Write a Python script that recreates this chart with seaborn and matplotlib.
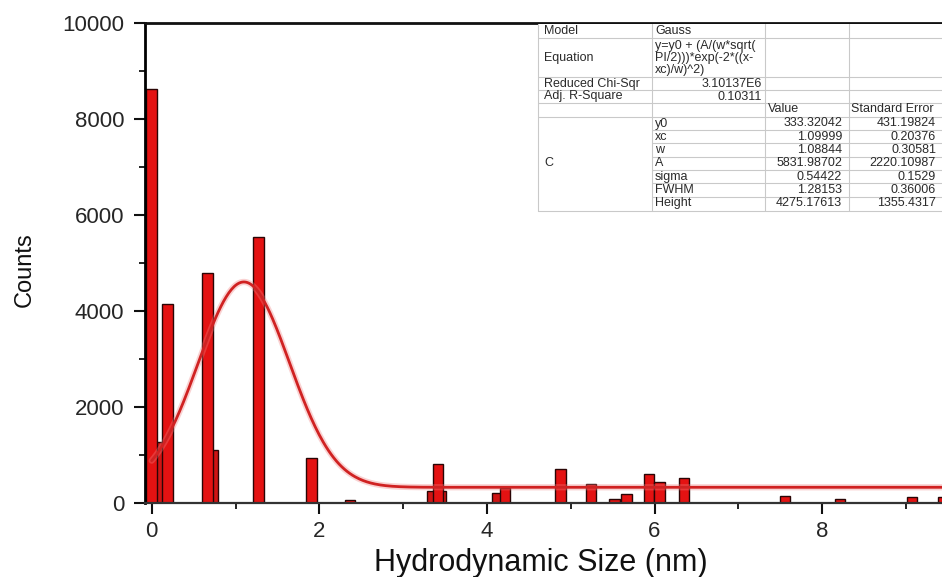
import numpy as np
import pandas as pd
import matplotlib
matplotlib.use("Agg")
import matplotlib.pyplot as plt
from matplotlib.ticker import MultipleLocator
import seaborn as sns

# ---------------- data ----------------
size_front = [0.0, 0.186, 0.663, 1.272, 1.909, 2.363, 3.417, 4.218, 4.876, 5.24,
              5.525, 5.668, 5.934, 6.06, 6.352, 7.554, 8.211, 9.07, 9.445]
counts_front = [8620, 4142, 4800, 5550, 950, 70, 818, 312, 708, 396,
                83, 187, 610, 450, 527, 158, 96, 137, 137]
size_back = [0.113, 0.731, 3.351, 3.446, 4.12]
counts_back = [1280, 1110, 250, 250, 208]

fit_y0 = 333.32042
fit_xc = 1.09999
fit_w = 1.08844
fit_A = 5831.98702

x_ticks = [0, 2, 4, 6, 8]
y_ticks = [0, 2000, 4000, 6000, 8000, 10000]

stat_labels = ["Model", "Equation", "Reduced Chi-Sqr", "Adj. R-Square"]
stat_values = ["Gauss", "y=y0 + (A/(w*sqrt(\nPI/2)))*exp(-2*((x-\nxc)/w)^2)",
               "3.10137E6", "0.10311"]
param_group = "C"
param_names = ["y0", "xc", "w", "A", "sigma", "FWHM", "Height"]
param_values = ["333.32042", "1.09999", "1.08844", "5831.98702", "0.54422",
                "1.28153", "4275.17613"]
param_errors = ["431.19824", "0.20376", "0.30581", "2220.10987", "0.1529",
                "0.36006", "1355.4317"]
col_headers = ["Value", "Standard Error"]

# ---------------- style ----------------
sns.set_style("ticks")
plt.rcParams["font.family"] = ["Liberation Sans", "DejaVu Sans"]

BAR_W = 0.125
BAR_COLOR = "#e41212"
BACK_COLOR = "#cf1414"
EDGE = "#2a0505"

fig = plt.figure(figsize=(9.42, 5.77), dpi=100)
W, H = 942, 577
ax = fig.add_axes([145 / W, 1 - 503.3 / H, (W - 145) / W, (503.3 - 23) / H])

df_back = pd.DataFrame({"size": size_back, "counts": counts_back})
df_front = pd.DataFrame({"size": size_front, "counts": counts_front})

w_back = BAR_W / np.min(np.diff(np.sort(df_back["size"].values)))
w_front = BAR_W / np.min(np.diff(np.sort(df_front["size"].values)))

sns.barplot(data=df_back, x="size", y="counts", native_scale=True, orient="x",
            width=w_back, color=BACK_COLOR, saturation=1, edgecolor=EDGE,
            linewidth=1.0, errorbar=None, ax=ax)
sns.barplot(data=df_front, x="size", y="counts", native_scale=True, orient="x",
            width=w_front, color=BAR_COLOR, saturation=1, edgecolor=EDGE,
            linewidth=1.0, errorbar=None, ax=ax)

# Gauss fit curve from the fitted parameters shown in the table
x_fit = np.linspace(0, 9.5, 600)
y_fit = fit_y0 + fit_A / (fit_w * np.sqrt(np.pi / 2)) * np.exp(-2 * ((x_fit - fit_xc) / fit_w) ** 2)
sns.lineplot(x=x_fit, y=y_fit, color="#f08080", lw=4.5, alpha=0.35, ax=ax, zorder=4)
sns.lineplot(x=x_fit, y=y_fit, color="#d02222", lw=2.0, ax=ax, zorder=5)

ax.set_xlim(-0.08, 9.43)
ax.set_ylim(0, 10000)
ax.set_xticks(x_ticks)
ax.set_xticklabels([str(t) for t in x_ticks])
ax.set_yticks(y_ticks)
ax.set_yticklabels([str(t) for t in y_ticks])
ax.xaxis.set_minor_locator(MultipleLocator(1))
ax.yaxis.set_minor_locator(MultipleLocator(1000))
ax.set_xlabel("")
ax.set_ylabel("")

ax.tick_params(axis="both", which="major", direction="out", length=8, width=1.5,
               labelsize=16, color="#111111")
ax.tick_params(axis="y", which="major", pad=7)
ax.tick_params(axis="x", which="major", pad=5)
ax.tick_params(axis="both", which="minor", direction="out", length=4.5, width=1.3,
               color="#111111")

ax.spines["right"].set_visible(False)
ax.spines["left"].set_linewidth(2.0)
ax.spines["left"].set_color("#000000")
ax.spines["top"].set_visible(True)
ax.spines["top"].set_linewidth(2.0)
ax.spines["top"].set_color("#111111")
ax.spines["bottom"].set_linewidth(1.6)
ax.spines["bottom"].set_color("#333333")

fig.text(541 / W, 1 - 563 / H, "Hydrodynamic Size (nm)", ha="center", va="center",
         fontsize=22, color="#111111")
fig.text(25 / W, 1 - 270 / H, "Counts", ha="center", va="center", rotation=90,
         fontsize=17, color="#111111")

# ---------------- fit results table ----------------
tab = fig.add_axes([0, 0, 1, 1])
tab.set_xlim(0, W)
tab.set_ylim(H, 0)
tab.axis("off")
tab.patch.set_visible(False)

x0, x1, x2, x3, x4 = 538, 652, 765, 849, 945
top, bot = 24, 211
tab.add_patch(plt.Rectangle((x0, top), x4 - x0, bot - top, facecolor="white",
                            edgecolor="none", zorder=1))
gc = "#c9c9c9"
glw = 0.8
row_lines_full = [38.3, 76.7, 90, 102.7, 116.7, bot]
for yy in row_lines_full:
    tab.plot([x0, x4], [yy, yy], color=gc, lw=glw, zorder=2)
for yy in [130, 143.3, 156.7, 170, 183.3, 196.7]:
    tab.plot([x1, x4], [yy, yy], color=gc, lw=glw, zorder=2)
for xx in [x0, x1, x2, x3]:
    tab.plot([xx, xx], [top, bot], color=gc, lw=glw, zorder=2)

fs = 9
tc = "#2a2a2a"
stat_y = [31.5, 58.3, 84, 96.5]
for lab, val, yy in zip(stat_labels, stat_values, stat_y):
    tab.text(x0 + 6, yy, lab, fontsize=fs, color=tc, va="center", ha="left", zorder=3)
    if val in ("3.10137E6", "0.10311"):
        tab.text(x2 - 3, yy, val, fontsize=fs, color=tc, va="center", ha="right", zorder=3)
    elif "\n" in val:
        for k, line in enumerate(val.split("\n")):
            tab.text(x1 + 3, 46 + 12.2 * k, line, fontsize=fs, color=tc,
                     va="center", ha="left", zorder=3)
    else:
        tab.text(x1 + 3, yy, val, fontsize=fs, color=tc, va="center", ha="left", zorder=3)

tab.text(x2 + 3, 109.5, col_headers[0], fontsize=fs, color=tc, va="center", ha="left", zorder=3)
tab.text(x3 + 2, 109.5, col_headers[1], fontsize=fs, color=tc, va="center", ha="left", zorder=3)

row_y = [123.5, 136.8, 150, 163.4, 176.7, 190, 203.3]
tab.text(x0 + 6, row_y[3], param_group, fontsize=fs, color=tc, va="center", ha="left", zorder=3)
for nm, v, e, yy in zip(param_names, param_values, param_errors, row_y):
    tab.text(x1 + 3, yy, nm, fontsize=fs, color=tc, va="center", ha="left", zorder=3)
    tab.text(x3 - 7, yy, v, fontsize=fs, color=tc, va="center", ha="right", zorder=3)
    tab.text(936, yy, e, fontsize=fs, color=tc, va="center", ha="right", zorder=3)

fig.savefig("out.png", dpi=100)
